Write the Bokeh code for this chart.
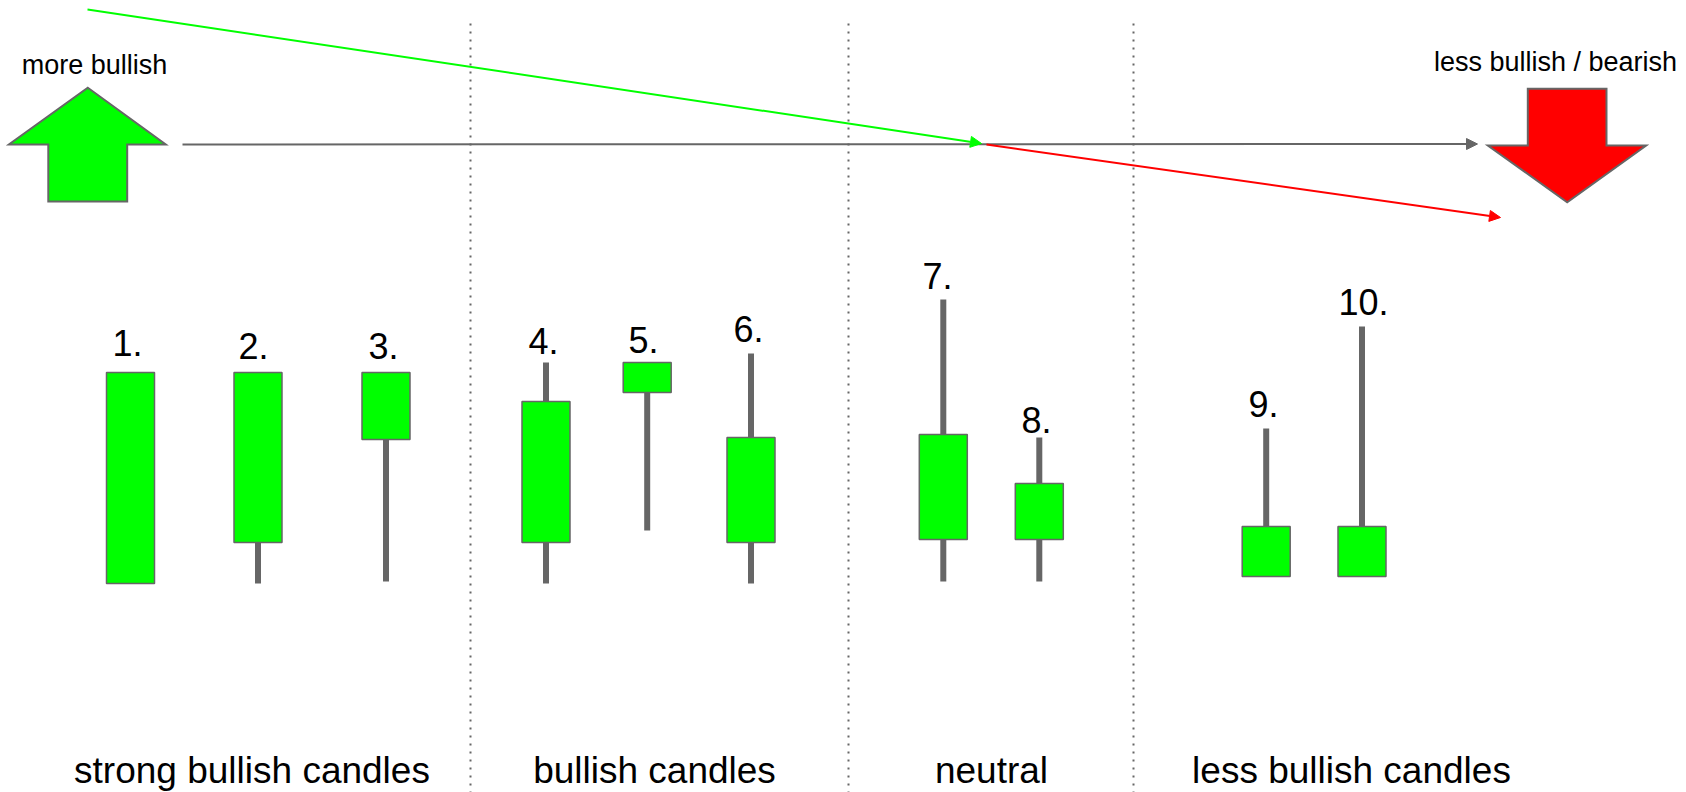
from bokeh.plotting import figure
from bokeh.models import Range1d, Arrow, NormalHead, ColumnDataSource
from bokeh.core.properties import value
from bokeh.embed import file_html
from bokeh.resources import INLINE

# ---------------- data (price units: higher = up) ----------------
candle_labels = ["1.", "2.", "3.", "4.", "5.", "6.", "7.", "8.", "9.", "10."]
candle_x = [130, 257.5, 385.5, 545.5, 646.7, 750.5, 942.8, 1038.8, 1265.7, 1361.5]
candle_open = [209, 250, 353, 250, 400, 250, 253, 253, 216, 216]
candle_close = [420, 420, 420, 391, 430, 355, 358, 309, 266, 266]
candle_high = [420, 420, 420, 430, 430, 439, 493, 355, 364, 466]
candle_low = [209, 209, 211, 209, 262, 209, 211, 211, 216, 216]

label_x = [127, 253, 383, 543, 643, 748, 937, 1036, 1263, 1363]
label_y = [438, 435, 435, 440, 441, 452, 505, 361, 377, 479]

section_names = ["strong bullish candles", "bullish candles", "neutral", "less bullish candles"]
section_centers = [251.5, 654, 991, 1351]
section_edges = [470, 848, 1133]

# trend arrows: (x_start, y_start, x_end, y_end)
green_trend = (87, 783, 981, 649)
red_trend = (986, 648, 1500, 575)
gray_axis = (182, 648, 1477, 648.5)

up_arrow_x = [87.3, 165.3, 126.7, 126.7, 47.8, 47.8, 8.4]
up_arrow_y = [704.7, 648, 648, 591, 591, 648, 648]
down_arrow_x = [1527.3, 1606, 1606, 1645.7, 1566.7, 1487.3, 1527.3]
down_arrow_y = [703.7, 703.7, 647, 647, 590.3, 647, 647]

GREEN = "#00ff00"
RED = "#ff0000"
GRAY = "#666666"
FONT = value("Liberation Sans")
TXT_OFF = -12  # screen-pixel correction of the svg text baseline

p = figure(width=1686, height=792, output_backend="svg", toolbar_location=None,
           x_range=Range1d(0, 1686), y_range=Range1d(0, 792),
           min_border=0, background_fill_color="white", border_fill_color="white")
p.axis.visible = False
p.xgrid.visible = False
p.ygrid.visible = False
p.outline_line_color = None

# section separators (dotted)
p.segment(x0=section_edges, y0=[769] * 3, x1=section_edges, y1=[0] * 3,
          line_color=GRAY, line_width=2, line_dash="2 6")

# big block arrows
p.patch(up_arrow_x, up_arrow_y, fill_color=GREEN, line_color=GRAY, line_width=2, line_join="miter")
p.patch(down_arrow_x, down_arrow_y, fill_color=RED, line_color=GRAY, line_width=2, line_join="miter")

# trend arrows
for (xs, ys, xe, ye), col in [(gray_axis, GRAY), (green_trend, GREEN), (red_trend, RED)]:
    p.add_layout(Arrow(end=NormalHead(size=11, fill_color=col, line_color=col, line_width=1),
                       x_start=xs, y_start=ys, x_end=xe, y_end=ye,
                       line_color=col, line_width=2))

# top texts
p.text(x=[94], y=[716], text=["more bullish"], text_font=FONT, text_font_size="27px",
       text_align="center", text_baseline="alphabetic", text_color="black", y_offset=TXT_OFF)
p.text(x=[1684], y=[719], text=["less  bullish / bearish"], text_font=FONT, text_font_size="27px",
       text_align="right", text_baseline="alphabetic", text_color="black", y_offset=TXT_OFF)

# candles
src = ColumnDataSource(dict(x=candle_x, open=candle_open, close=candle_close,
                            high=candle_high, low=candle_low))
p.segment(x0="x", y0="high", x1="x", y1="low", source=src,
          line_color=GRAY, line_width=6, line_cap="butt")
p.vbar(x="x", width=48, top="close", bottom="open", source=src,
       fill_color=GREEN, line_color=GRAY, line_width=1.5)

# candle numbers
p.text(x=label_x, y=label_y, text=candle_labels, text_font=FONT, text_font_size="36px",
       text_align="center", text_baseline="alphabetic", text_color="black", y_offset=TXT_OFF)

# section names
p.text(x=section_centers, y=[10] * 4, text=section_names, text_font=FONT, text_font_size="37px",
       text_align="center", text_baseline="alphabetic", text_color="black", y_offset=TXT_OFF)

open("out.html", "w").write(file_html(p, INLINE))
